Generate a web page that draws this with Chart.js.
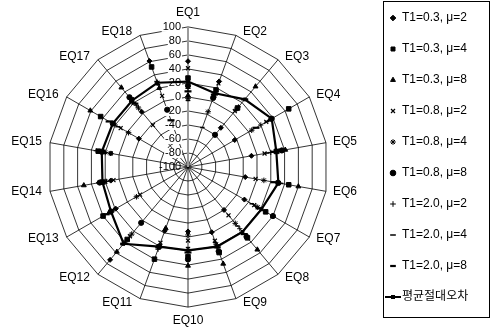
<!DOCTYPE html>
<html><head><meta charset="utf-8">
<script src="https://cdn.jsdelivr.net/npm/chart.js@4.4.1/dist/chart.umd.min.js"></script>
<style>html,body{margin:0;padding:0;background:#fff;}</style>
</head><body>
<canvas id="c" width="492" height="332"></canvas>
<script>
const categories = ['EQ1','EQ2','EQ3','EQ4','EQ5','EQ6','EQ7','EQ8','EQ9','EQ10','EQ11','EQ12','EQ13','EQ14','EQ15','EQ16','EQ17','EQ18'];
const tickValues = [-100,-80,-60,-40,-20,0,20,40,60,80,100];
const seriesNames = ['T1=0.3, \u03bc=2','T1=0.3, \u03bc=4','T1=0.3, \u03bc=8','T1=0.8, \u03bc=2','T1=0.8, \u03bc=4','T1=0.8, \u03bc=8','T1=2.0, \u03bc=2','T1=2.0, \u03bc=4','T1=2.0, \u03bc=8'];
const meanName = '\ud3c9\uade0\uc808\ub300\uc624\ucc28';
const t03mu2 = [51, 30, -27, -23, -8, -17, -7, -20, -1, -8, -3, 73, 19, 12, 12, -19, 3, 61];
const t03mu4 = [27, 17, 10, 66, 28, 46, 28, 32, 30, 28, 40, 35, 40, 24, 30, 44, 25, 52];
const t03mu8 = [2, 8, 50, 35, 41, 60, 40, 54, 47, 41, -7, 58, 30, 51, 22, 61, 48, 20];
const t08mu2 = [41, 27, 4, 29, 11, -2, 9, -10, 12, 5, 15, 29, -21, 8, 12, 11, -22, 8];
const t08mu4 = [-2, -16, 8, 5, 32, 10, 15, 5, 18, -3, 20, 25, -15, 20, 20, -2, 10, 28];
const t08mu8 = [16, 5, -40, 38, 36, 31, 40, 30, 28, 32, 21, 4, 27, 28, 25, 24, 30, -13];
const t20mu2 = [12, 12, 12, 20, 20, 28, 12, 15, 20, 19, 25, 40, 22, 18, 33, 20, 15, 30];
const t20mu4 = [-5, -40, 6, 30, 15, 35, 5, 10, 15, 15, 18, 45, 20, 30, 26, 15, 20, 25];
const t20mu8 = [8, 10, 26, 12, 25, 25, 18, 25, 22, 22, 22, 43, 35, 25, 24, 30, 18, -29];
const meanAbsError = [22, 12, 26, 38, 28, 31, 21, 21, 21, 19, 21, 43, 27, 24, 25, 24, 24, 28];

const seriesData = [t03mu2, t03mu4, t03mu8, t08mu2, t08mu4, t08mu8, t20mu2, t20mu4, t20mu8];
const styles = [
  {pointStyle:'rectRot', pointRadius:2.5, pointBorderWidth:1},
  {pointStyle:'rect', pointRadius:3.2, pointBorderWidth:1},
  {pointStyle:'triangle', pointRadius:2.8, pointBorderWidth:1},
  {pointStyle:'crossRot', pointRadius:2.8, pointBorderWidth:1.2},
  {pointStyle:'star', pointRadius:2.8, pointBorderWidth:1},
  {pointStyle:'circle', pointRadius:2.6, pointBorderWidth:1},
  {pointStyle:'cross', pointRadius:2.6, pointBorderWidth:1},
  {pointStyle:'line', pointRadius:2.2, pointBorderWidth:1.5},
  {pointStyle:'line', pointRadius:3.5, pointBorderWidth:2.2}
];
const FONT = '"Liberation Sans", Arial, "Noto Sans CJK KR", sans-serif';

const datasets = seriesData.map((d, i) => Object.assign({
  label: seriesNames[i], data: d, showLine: false, fill: false,
  borderColor: '#000', backgroundColor: '#000',
  pointBackgroundColor: '#000', pointBorderColor: '#000'
}, styles[i]));
datasets.push({
  label: meanName, data: meanAbsError, showLine: true, fill: false,
  borderColor: '#000', backgroundColor: '#000', borderWidth: 2.2,
  pointStyle: 'rect', pointRadius: 2, pointBorderWidth: 1,
  pointBackgroundColor: '#000', pointBorderColor: '#000'
});

const meanIcon = document.createElement('canvas');
meanIcon.width = 16; meanIcon.height = 6;
(function(){ const g = meanIcon.getContext('2d'); g.fillStyle = '#000';
  g.fillRect(0, 2, 16, 2); g.fillRect(6, 1, 4, 4); })();

const tickLabelPlugin = {
  id: 'tickLabels',
  beforeDatasetsDraw(chart) {
    const s = chart.scales.r, ctx = chart.ctx;
    ctx.save();
    ctx.font = '11px ' + FONT;
    ctx.textAlign = 'right'; ctx.textBaseline = 'middle';
    s.ticks.forEach(t => {
      const y = s.yCenter - s.getDistanceFromCenterForValue(t.value);
      const x = s.xCenter - 7;
      const w = ctx.measureText(t.label).width;
      if (t.value > tickValues[0]) { ctx.fillStyle = '#fff'; ctx.fillRect(x - w - 1, y - 5, w + 2, 10); }
      ctx.fillStyle = '#000'; ctx.fillText(t.label, x, y);
    });
    ctx.restore();
  }
};
const pointLabelPlace = {
  id: 'pointLabelPlace',
  afterLayout(chart) {
    const s = chart.scales.r;
    if (!s || !s._pointLabelItems) return;
    const n = s._pointLabelItems.length, lh = 12 * 1.2;
    for (let i = 0; i < n; i++) {
      const it = s._pointLabelItems[i];
      const v = s.getPointPosition(i, s.drawingArea);
      const ang = i * 360 / n;
      let x, cy, align;
      if (i === 0) { x = v.x; cy = v.y - 14; align = 'center'; }
      else if (ang === 180) { x = v.x; cy = v.y + 14; align = 'center'; }
      else if (ang < 180) { x = v.x + 7; cy = v.y - 4 * Math.cos(ang * Math.PI / 180); align = 'left'; }
      else { x = v.x - 8; cy = v.y - 4 * Math.cos(ang * Math.PI / 180); align = 'right'; }
      it.x = x; it.y = cy - lh / 2; it.textAlign = align;
      it.top = it.y; it.bottom = it.y + lh;
    }
  }
};
const legendPlace = {
  id: 'legendPlace',
  afterLayout(chart) {
    const lg = chart.legend; if (!lg) return;
    lg.left = 371; lg.right = 492; lg.top = -7; lg.bottom = 332;
    lg.width = lg.right - lg.left; lg.height = lg.bottom - lg.top;
  },
  afterDraw(chart) {
    const ctx = chart.ctx; ctx.save();
    ctx.strokeStyle = '#000'; ctx.lineWidth = 1;
    ctx.strokeRect(383.5, 1.5, 106, 316);
    ctx.restore();
  }
};

new Chart(document.getElementById('c'), {
  type: 'radar',
  data: { labels: categories, datasets },
  options: {
    responsive: false, animation: false,
    layout: { padding: { left: 0, right: 15, top: 3, bottom: -2 } },
    elements: { line: { tension: 0 } },
    scales: {
      r: {
        min: tickValues[0], max: tickValues[tickValues.length - 1],
        ticks: { stepSize: 20, display: false },
        grid: { circular: false, color: '#000', lineWidth: 0.8 },
        angleLines: { display: true,
          color: c => c.index === 0 ? '#9a9a9a' : '#000',
          lineWidth: c => c.index === 0 ? 2 : 0.8 },
        pointLabels: { font: { family: FONT, size: 12 }, color: '#000', padding: 9.5 }
      }
    },
    plugins: {
      tooltip: { enabled: false },
      legend: {
        position: 'right', align: 'start',
        labels: {
          usePointStyle: true, boxWidth: 6, boxHeight: 4, padding: 19,
          color: '#000', font: { family: FONT, size: 12 },
          generateLabels(chart) {
            const items = Chart.defaults.plugins.legend.labels.generateLabels(chart);
            items.forEach(it => { if (it.datasetIndex === 9) it.pointStyle = meanIcon; });
            return items;
          }
        }
      }
    }
  },
  plugins: [tickLabelPlugin, pointLabelPlace, legendPlace]
});
</script>
</body></html>
